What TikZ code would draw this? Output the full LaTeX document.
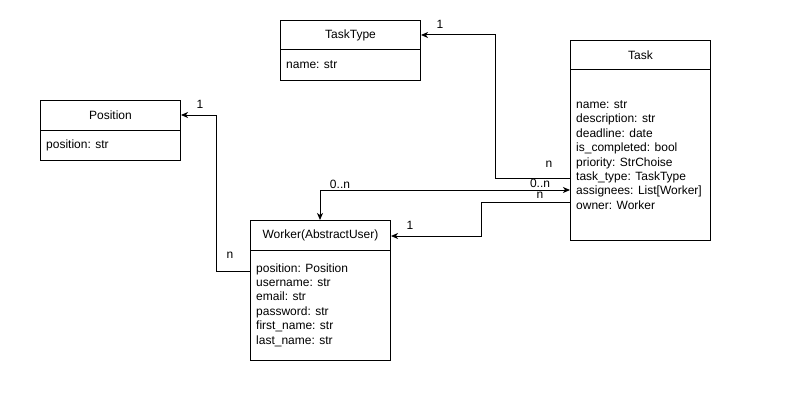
\documentclass[tikz,border=0pt]{standalone}
\usepackage{fontspec}
\setmainfont{Liberation Sans}
\usetikzlibrary{arrows.meta,calc}
\begin{document}
\begin{tikzpicture}[x=1pt,y=-1pt,
  box/.style={draw,line width=1pt,minimum width=140pt,inner sep=0pt,anchor=north west},
  title/.style={font=\fontsize{12}{14.4}\selectfont,anchor=center,inner sep=0pt},
  attrs/.style={font=\fontsize{12}{14.4}\selectfont,align=left,anchor=west,inner sep=0pt},
  link/.style={line width=1pt,-{Stealth[length=7pt,width=6pt,inset=2pt]}},
  dlink/.style={line width=1pt,{Stealth[length=7pt,width=6pt,inset=2pt]}-{Stealth[length=7pt,width=6pt,inset=2pt]}},
  mult/.style={font=\fontsize{12}{14.4}\selectfont,inner sep=0pt}]
\useasboundingbox[fill=white] (0,0) rectangle (791,401);

% TaskType class
\node[box,minimum height=60pt] (tasktype) at (280,20) {};
\draw[line width=1pt] ($(tasktype.north west)+(0,30)$) -- ($(tasktype.north east)+(0,30)$);
\node[title] (tasktypetitle) at ($(tasktype.north)+(0,15)$) {TaskType};
\node[attrs] (tasktypeattrs) at ($(tasktype.north west)+(6,45)$) {name: str};

% Task class
\node[box,minimum height=200pt] (task) at (570,40) {};
\draw[line width=1pt] ($(task.north west)+(0,30)$) -- ($(task.north east)+(0,30)$);
\node[title] (tasktitle) at ($(task.north)+(0,15)$) {Task};
\node[attrs] (taskattrs) at ($(task.north west)+(6,115)$) {name: str\\description: str\\deadline: date\\is\_completed: bool\\priority: StrChoise\\task\_type: TaskType\\assignees: List[Worker]\\owner: Worker};

% Position class
\node[box,minimum height=60pt] (position) at (40,100) {};
\draw[line width=1pt] ($(position.north west)+(0,30)$) -- ($(position.north east)+(0,30)$);
\node[title] (positiontitle) at ($(position.north)+(0,15)$) {Position};
\node[attrs] (positionattrs) at ($(position.north west)+(6,45)$) {position: str};

% Worker class
\node[box,minimum height=140pt] (worker) at (250,220) {};
\draw[line width=1pt] ($(worker.north west)+(0,30)$) -- ($(worker.north east)+(0,30)$);
\node[title] (workertitle) at ($(worker.north)+(0,15)$) {Worker(AbstractUser)};
\node[attrs] (workerattrs) at ($(worker.north west)+(6,85)$) {position: Position\\username: str\\email: str\\password: str\\first\_name: str\\last\_name: str};

% Task.task_type -> TaskType
\draw[link] ($(task.north west)+(0,138)$) -- ++(-75,0) |- ($(tasktype.north east)+(0,15)$);
\node[mult] (m1) at (440,24) {1};
\node[mult] (m2) at (549,164) {n};

% Worker.position -> Position
\draw[link] ($(worker.north west)+(0,51)$) -- ++(-34,0) |- ($(position.north east)+(0,15)$);
\node[mult] (m3) at (200,104) {1};
\node[mult] (m4) at (230,255) {n};

% Task.assignees <-> Worker
\draw[dlink] ($(worker.north west)+(70,0)$) |- ($(task.north west)+(0,150)$);
\node[mult] (m5) at (340,184) {0..n};
\node[mult] (m6) at (540,183) {0..n};

% Task.owner -> Worker
\draw[link] ($(task.north west)+(0,162)$) -- ++(-89,0) |- ($(worker.north east)+(0,16)$);
\node[mult] (m7) at (540,195.5) {n};
\node[mult] (m8) at (410,225) {1};
\end{tikzpicture}
\end{document}
